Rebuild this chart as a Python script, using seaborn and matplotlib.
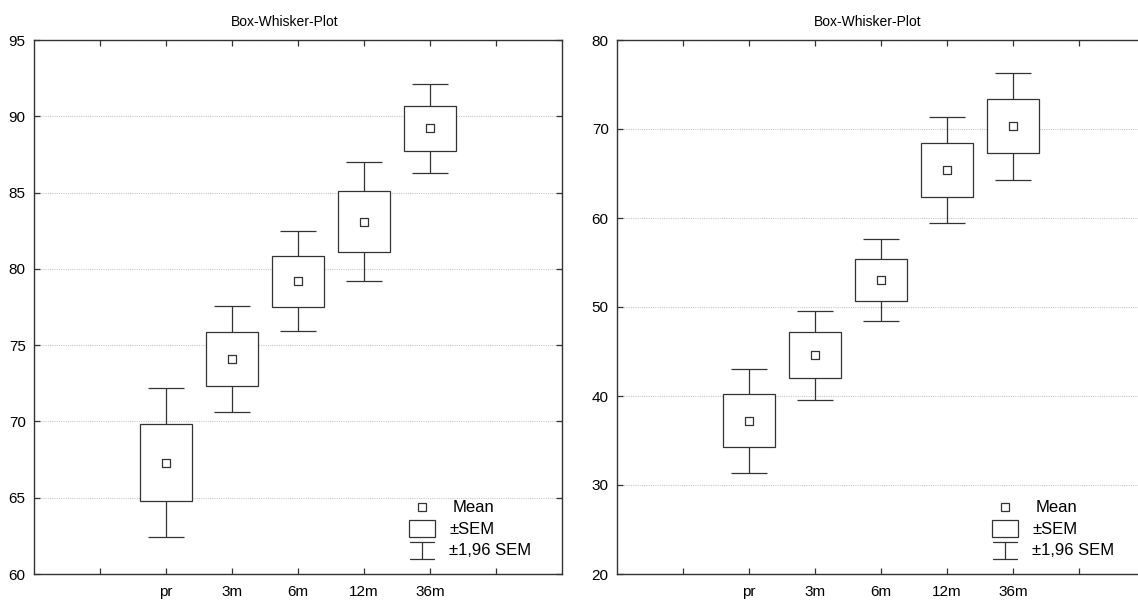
import numpy as np
import pandas as pd
import matplotlib
matplotlib.use("Agg")
import matplotlib.pyplot as plt
import seaborn as sns
from matplotlib.lines import Line2D
from matplotlib.patches import Rectangle

# ---------------- data ----------------
categories = ["pr", "3m", "6m", "12m", "36m"]
left_means = [67.3, 74.1, 79.2, 83.1, 89.2]
left_sems = [2.5, 1.77, 1.67, 1.98, 1.5]
right_means = [37.2, 44.6, 53.0, 65.4, 70.3]
right_sems = [2.97, 2.55, 2.35, 3.05, 3.05]
left_yticks = [60, 65, 70, 75, 80, 85, 90, 95]
right_yticks = [20, 30, 40, 50, 60, 70, 80]
title_text = "Box-Whisker-Plot"
legend_labels = ["Mean", "\u00b1SEM", "\u00b11,96 SEM"]
z_factor = 1.96

INK = "#333333"

sns.set_theme(style="white")
plt.rcParams['font.family'] = ['Liberation Sans', 'DejaVu Sans']
plt.rcParams['text.color'] = 'black'

fig = plt.figure(figsize=(11.38, 6.02), dpi=100)
W, H = 1138, 602
axL = fig.add_axes([34 / W, 28 / H, 528 / W, 534 / H])
axR = fig.add_axes([617 / W, 28 / H, 528 / W, 534 / H])


def draw_panel(ax, means, sems, yticks):
    pos = np.arange(len(categories)) + 2
    df = pd.DataFrame({"pos": pos, "mean": means, "sem": sems})
    df["lo"] = df["mean"] - df["sem"]
    ax.errorbar(df["pos"], df["mean"], yerr=z_factor * df["sem"], fmt="none",
                ecolor=INK, elinewidth=0.9, capsize=13.3, capthick=0.9, zorder=2)
    ax.bar(df["pos"], 2 * df["sem"], bottom=df["lo"], width=0.8,
           facecolor="white", edgecolor=INK, linewidth=0.9, zorder=3)
    sns.scatterplot(data=df, x="pos", y="mean", marker="s", s=32,
                    color="white", edgecolor=INK, linewidth=0.9, zorder=4,
                    ax=ax, legend=False)
    ax.set_xlabel("")
    ax.set_ylabel("")
    ax.set_xlim(0, 8)
    ax.set_ylim(yticks[0], yticks[-1])
    ax.set_yticks(yticks)
    ax.set_xticks(range(1, 8))
    ax.set_xticklabels([""] + categories + [""])
    ax.tick_params(axis="both", direction="in", length=4, width=0.9,
                   color=INK, labelsize=11, labelcolor="black",
                   top=True, right=True, bottom=True, left=True)
    ax.tick_params(axis="y", pad=6)
    ax.tick_params(axis="x", pad=8)
    ax.yaxis.grid(True, linestyle=(0, (1, 1)), color="#c8c8c8", linewidth=0.8)
    ax.xaxis.grid(False)
    ax.set_axisbelow(True)
    for sp in ax.spines.values():
        sp.set_color(INK)
        sp.set_linewidth(1.0)
        sp.set_visible(True)
    ax.text(0.475, 1.034, title_text, transform=ax.transAxes, ha="center",
            va="center", fontsize=10, color="black")

    # legend (drawn in axes coordinates)
    T = ax.transAxes
    cx = 0.735
    ax.add_line(Line2D([cx], [0.1255], marker="s", ms=5.4, mfc="white",
                       mec=INK, mew=0.9, transform=T, clip_on=False, zorder=5))
    ax.add_patch(Rectangle((0.711, 0.0693), 0.048, 0.0318, facecolor="white",
                           edgecolor=INK, linewidth=0.9, transform=T, zorder=5))
    ax.add_line(Line2D([cx, cx], [0.0281, 0.0599], color=INK, lw=0.9,
                       transform=T, zorder=5))
    for yy in (0.0281, 0.0599):
        ax.add_line(Line2D([0.712, 0.758], [yy, yy], color=INK, lw=0.9,
                           transform=T, zorder=5))
    ax.text(0.792, 0.124, legend_labels[0], transform=T, ha="left",
            va="center", fontsize=12, color="black")
    ax.text(0.786, 0.0835, legend_labels[1], transform=T, ha="left",
            va="center", fontsize=12, color="black")
    ax.text(0.786, 0.0445, legend_labels[2], transform=T, ha="left",
            va="center", fontsize=12, color="black")


draw_panel(axL, left_means, left_sems, left_yticks)
draw_panel(axR, right_means, right_sems, right_yticks)

fig.savefig("out.png", dpi=100)
